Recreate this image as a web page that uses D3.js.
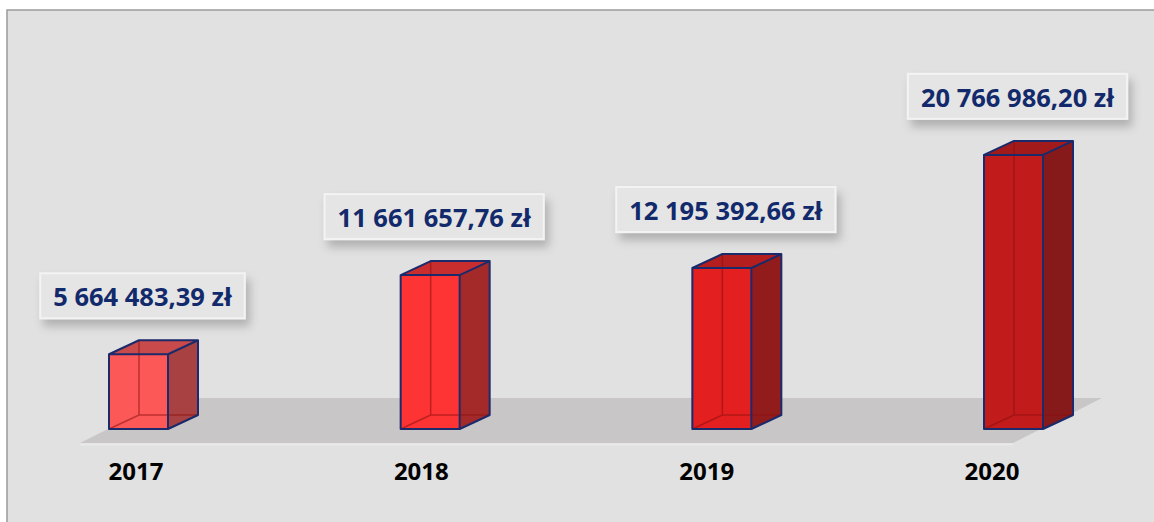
<!DOCTYPE html>
<html>
<head>
    <meta charset="UTF-8">
    <script src="https://d3js.org/d3.v7.min.js"></script>
    <style>
        body { margin: 0; padding: 0; background: #ffffff; }
        .val { font-family: 'Open Sans'; font-weight: bold; font-size: 25.5px; fill: #122a6b; }
        .yr { font-family: 'Open Sans'; font-weight: bold; font-size: 24px; fill: #000; }
    </style>
</head>
<body>
    <svg width="1154" height="522"></svg>
    <script>
        // data
        const years = ["2017", "2018", "2019", "2020"];
        const amounts = [5664483.39, 11661657.76, 12195392.66, 20766986.20];

        // styles per bar: front / side / top
        const fronts = ["#fc5858", "#fe3434", "#e31f1f", "#c21b1b"];
        const sides  = ["#a84242", "#a42a2a", "#921c1c", "#861a1a"];
        const tops   = ["#c84a4a", "#c92e2e", "#b51e1e", "#a31a1a"];

        const svg = d3.select("svg");
        const W = 1154, H = 522;
        const dx = 30, dy = -14, bw = 59;

        const pl = d3.formatLocale({decimal: ",", thousands: "\u00a0", grouping: [3], currency: ["", " zł"]});
        const fmt = pl.format(",.2f");

        const x = d3.scalePoint().domain(years).range([138.5, 1013.5]);
        const xl = d3.scalePoint().domain(years).range([136, 992]);
        const y = d3.scaleLinear().domain([0, 25e6]).range([429, 99]);

        // frame
        svg.append("rect").attr("x", 7).attr("y", 10).attr("width", W + 20).attr("height", H)
            .attr("fill", "#e1e1e1").attr("stroke", "#9a9a9a").attr("stroke-width", 1.5);

        const defs = svg.append("defs");
        const f = defs.append("filter").attr("id", "sh").attr("x", "-20%").attr("y", "-30%").attr("width", "150%").attr("height", "190%");
        f.append("feDropShadow").attr("dx", 4).attr("dy", 7).attr("stdDeviation", 5)
            .attr("flood-color", "#000").attr("flood-opacity", 0.22);

        // floor
        const fy0 = 443, fy1 = 398;
        svg.append("path")
            .attr("d", `M80,${fy0} L1013,${fy0} L1102,${fy1} L170,${fy1} Z`)
            .attr("fill", "#c8c6c6");
        svg.append("line").attr("x1", 80).attr("x2", 1013).attr("y1", fy0 + 1.5).attr("y2", fy0 + 1.5)
            .attr("stroke", "#e9e9e9").attr("stroke-width", 2);

        const data = years.map((yr, i) => ({yr, v: amounts[i], i}));

        const bars = svg.append("g").selectAll("g").data(data).join("g");

        bars.each(function (d) {
            const g = d3.select(this);
            const x0 = x(d.yr) - bw / 2, x1 = x0 + bw;
            const yb = y(0), yt = y(d.v);
            // side face
            g.append("path")
                .attr("d", `M${x1},${yb} L${x1 + dx},${yb + dy} L${x1 + dx},${yt + dy} L${x1},${yt} Z`)
                .attr("fill", sides[d.i]);
            // top face
            g.append("path")
                .attr("d", `M${x0},${yt} L${x0 + dx},${yt + dy} L${x1 + dx},${yt + dy} L${x1},${yt} Z`)
                .attr("fill", tops[d.i]);
            // front face
            g.append("rect").attr("x", x0).attr("y", yt).attr("width", bw).attr("height", yb - yt)
                .attr("fill", fronts[d.i]);
            // hidden edges seen through
            g.append("path")
                .attr("d", `M${x0},${yb} L${x0 + dx},${yb + dy} L${x1 + dx},${yb + dy} M${x0 + dx},${yb + dy} L${x0 + dx},${yt + dy}`)
                .attr("fill", "none").attr("stroke", "#8a0f0f").attr("stroke-opacity", 0.55).attr("stroke-width", 1.5);
            // outline
            g.append("path")
                .attr("d", `M${x0},${yb} L${x0},${yt} L${x0 + dx},${yt + dy} L${x1 + dx},${yt + dy} L${x1 + dx},${yb + dy} L${x1},${yb} Z M${x0},${yt} L${x1},${yt} L${x1 + dx},${yt + dy} M${x1},${yt} L${x1},${yb}`)
                .attr("fill", "none").attr("stroke", "#1b2a6b").attr("stroke-width", 2).attr("stroke-linejoin", "round");
        });

        // value labels
        const lab = svg.append("g").selectAll("g").data(data).join("g");
        lab.each(function (d) {
            const g = d3.select(this);
            const cx = x(d.yr) + 4;
            const bottom = y(d.v) + dy - 22;
            const rect = g.append("rect");
            const t = g.append("text").attr("class", "val")
                .attr("x", cx).attr("y", bottom - 12).attr("text-anchor", "middle")
                .text(fmt(d.v) + " zł");
            const w = t.node().getComputedTextLength() + 26;
            rect.attr("x", cx - w / 2).attr("y", bottom - 45).attr("width", w).attr("height", 45)
                .attr("fill", "#e5e5e5").attr("stroke", "#f3f3f3").attr("stroke-width", 2)
                .attr("filter", "url(#sh)");
        });

        // year labels
        svg.append("g").selectAll("text").data(years).join("text")
            .attr("class", "yr")
            .attr("x", d => xl(d)).attr("y", 480)
            .attr("text-anchor", "middle")
            .text(d => d);
    </script>
</body>
</html>
